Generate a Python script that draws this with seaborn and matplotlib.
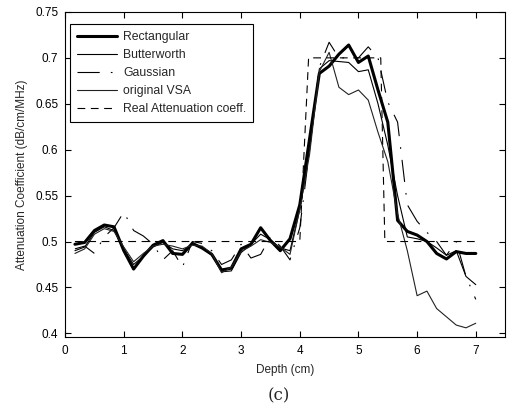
import numpy as np
import pandas as pd
import matplotlib
matplotlib.use("Agg")
import matplotlib.pyplot as plt
from matplotlib.ticker import FormatStrFormatter
import seaborn as sns

# depth sample positions (cm)
depth = [0.167, 0.333, 0.5, 0.667, 0.833, 1.0, 1.167, 1.333, 1.5, 1.667,
         1.833, 2.0, 2.167, 2.333, 2.5, 2.667, 2.833, 3.0, 3.167, 3.333,
         3.5, 3.667, 3.833, 4.0, 4.167, 4.333, 4.5, 4.667, 4.833, 5.0,
         5.167, 5.333, 5.5, 5.667, 5.833, 6.0, 6.167, 6.333, 6.5, 6.667,
         6.833, 7.0]

rectangular = [0.497, 0.499, 0.512, 0.518, 0.516, 0.490, 0.470, 0.484, 0.496, 0.501,
               0.487, 0.486, 0.498, 0.493, 0.486, 0.469, 0.471, 0.492, 0.497, 0.515,
               0.501, 0.490, 0.503, 0.540, 0.612, 0.683, 0.691, 0.704, 0.714, 0.695,
               0.702, 0.665, 0.630, 0.523, 0.511, 0.507, 0.500, 0.487, 0.481, 0.489,
               0.487, 0.487]

butterworth = [0.490, 0.494, 0.510, 0.516, 0.512, 0.492, 0.475, 0.484, 0.494, 0.499,
               0.492, 0.490, 0.497, 0.494, 0.485, 0.467, 0.468, 0.488, 0.497, 0.508,
               0.502, 0.493, 0.490, 0.535, 0.600, 0.688, 0.697, 0.696, 0.695, 0.685,
               0.687, 0.650, 0.605, 0.550, 0.505, 0.503, 0.500, 0.493, 0.485, 0.490,
               0.462, 0.453]

gaussian = [0.492, 0.495, 0.487, 0.505, 0.515, 0.532, 0.512, 0.506, 0.497, 0.480,
            0.490, 0.472, 0.500, 0.498, 0.490, 0.475, 0.480, 0.497, 0.482, 0.486,
            0.505, 0.495, 0.480, 0.515, 0.600, 0.690, 0.717, 0.700, 0.700, 0.700,
            0.712, 0.700, 0.652, 0.630, 0.540, 0.522, 0.510, 0.500, 0.485, 0.500,
            0.462, 0.437]

original_vsa = [0.487, 0.492, 0.508, 0.514, 0.511, 0.494, 0.478, 0.487, 0.495, 0.497,
                0.495, 0.492, 0.496, 0.495, 0.487, 0.466, 0.472, 0.489, 0.495, 0.502,
                0.499, 0.494, 0.486, 0.535, 0.595, 0.685, 0.706, 0.668, 0.660, 0.665,
                0.654, 0.619, 0.587, 0.530, 0.490, 0.441, 0.446, 0.427, 0.418, 0.409,
                0.406, 0.411]

# true attenuation profile (step)
real_depth = [0.167, 4.0, 4.15, 5.38, 5.45, 7.0]
real_coeff = [0.5, 0.5, 0.7, 0.7, 0.5, 0.5]

sns.set_style("ticks")
plt.rcParams['font.family'] = ['Liberation Sans', 'DejaVu Sans']
plt.rcParams['xtick.direction'] = 'in'
plt.rcParams['ytick.direction'] = 'in'

fig = plt.figure(figsize=(5.17, 4.12), dpi=100)
ax = fig.add_axes([0.126, 0.182, 0.851, 0.789])

sns.lineplot(x=depth, y=rectangular, ax=ax, color='black', linewidth=2.2,
             label='Rectangular')
sns.lineplot(x=depth, y=butterworth, ax=ax, color='black', linewidth=0.8,
             label='Butterworth')
ax.plot(depth, gaussian, color='black', linewidth=0.8,
        linestyle=(0, (20, 10, 1.5, 10)), label='Gaussian')
sns.lineplot(x=depth, y=original_vsa, ax=ax, color='#222222', linewidth=0.8,
             label='original VSA')
ax.plot(real_depth, real_coeff, color='black', linewidth=0.8,
        linestyle=(0, (7, 5)), label='Real Attenuation coeff.')

ax.set_xlim(0, 7.5)
ax.set_ylim(0.396, 0.75)
ax.set_xticks(range(0, 8))
ax.set_yticks([0.4, 0.45, 0.5, 0.55, 0.6, 0.65, 0.7, 0.75])
ax.yaxis.set_major_formatter(FormatStrFormatter('%g'))
ax.tick_params(axis='both', labelsize=8.5, length=4, width=0.8,
               top=True, right=True, colors='black')
ax.tick_params(axis='x', pad=6)
ax.tick_params(axis='y', pad=5)
for s in ax.spines.values():
    s.set_visible(True)
    s.set_color('black')
    s.set_linewidth(0.8)

ax.set_xlabel('Depth (cm)', fontsize=8.5, labelpad=5)
ax.set_ylabel('Attenuation Coefficient (dB/cm/MHz)', fontsize=8.5, labelpad=5)

leg = ax.legend(loc='upper left', bbox_to_anchor=(0.012, 0.962), borderaxespad=0,
                fontsize=8.8, handlelength=3.3, handletextpad=0.45,
                labelspacing=0.5, frameon=True, fancybox=False,
                framealpha=1, edgecolor='black', borderpad=0.55)
leg.get_frame().set_linewidth(0.8)

fig.text(0.54, 0.04, '(c)', ha='center', va='center',
         fontsize=12, family=['DejaVu Serif'])

fig.savefig('out.png', dpi=100)
